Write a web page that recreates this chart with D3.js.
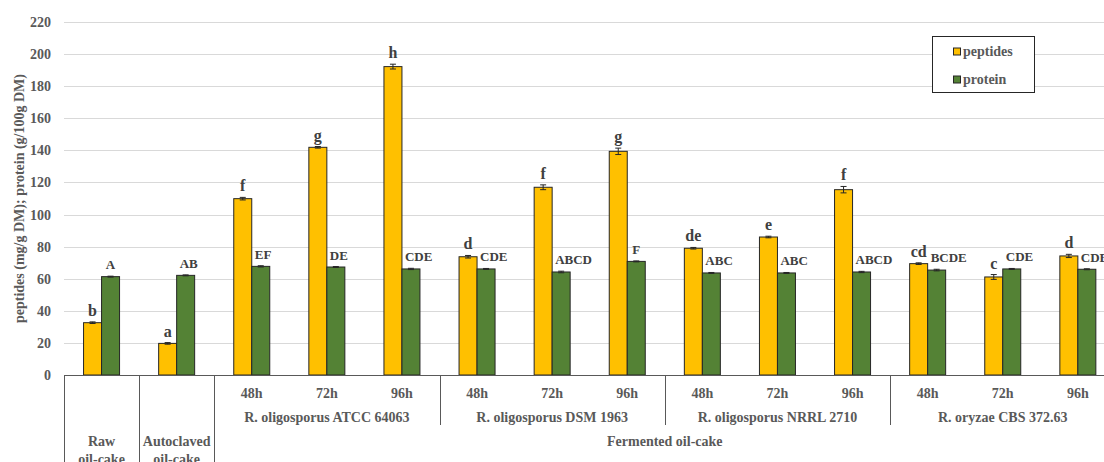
<!DOCTYPE html>
<html><head><meta charset="utf-8">
<script src="https://cdn.jsdelivr.net/npm/d3@7"></script>
<style>
html,body{margin:0;padding:0;background:#fff;}
svg{display:block;font-family:"Liberation Serif","Times New Roman",serif;font-weight:bold;}
</style></head>
<body><svg id="c" width="1104" height="462"></svg>
<script>
const groups = ["Raw","Autoclaved","ATCC 48h","ATCC 72h","ATCC 96h","DSM 48h","DSM 72h","DSM 96h","NRRL 48h","NRRL 72h","NRRL 96h","CBS 48h","CBS 72h","CBS 96h"];
const timeLabels = ["","","48h","72h","96h","48h","72h","96h","48h","72h","96h","48h","72h","96h"];
const peptides = [32.6,19.7,109.9,141.9,192.2,73.7,117.0,139.4,79.0,86.0,115.5,69.4,61.1,74.2];
const peptidesErr = [0.5,0.5,0.8,0.5,1.5,0.8,1.5,2.0,0.5,0.5,2.0,0.5,1.5,1.0];
const protein = [61.3,62.1,67.7,67.3,66.1,66.1,64.2,70.8,63.6,63.6,64.2,65.4,66.1,65.9];
const proteinErr = [0.3,0.3,0.4,0.3,0.4,0.3,0.5,0.3,0.3,0.3,0.4,0.5,0.3,0.3];
const peptideLetters = ["b","a","f","g","h","d","f","g","de","e","f","cd","c","d"];
const proteinLetters = ["A","AB","EF","DE","CDE","CDE","ABCD","F","ABC","ABC","ABCD","BCDE","CDE","CDE"];
const strains = [
  {name:"R. oligosporus ATCC 64063", from:2, to:4},
  {name:"R. oligosporus DSM 1963", from:5, to:7},
  {name:"R. oligosporus NRRL 2710", from:8, to:10},
  {name:"R. oryzae CBS 372.63", from:11, to:13}
];
const topCategories = [
  {lines:["Raw","oil-cake"], from:0, to:0},
  {lines:["Autoclaved","oil-cake"], from:1, to:1},
  {lines:["Fermented oil-cake"], from:2, to:13}
];
const yTicks = [0,20,40,60,80,100,120,140,160,180,200,220];
const seriesNames = ["peptides","protein"];
const colors = ["#FFC000","#548235"];

(function(){
const svg = d3.select("#c");
const mLeft = 64, mTop = 22, mBottom = 375, groupW = 75.1;
const mRight = mLeft + groups.length*groupW;
const x = d3.scaleBand().domain(groups).range([mLeft,mRight]).paddingInner(0).paddingOuter(0);
const y = d3.scaleLinear().domain([0,220]).range([mBottom,mTop]);
const bw = 18;
const axisCol = "#595959", textCol = "#595959", labCol = "#404040";

svg.append("g").selectAll("line").data(yTicks.filter(d=>d>0)).join("line")
  .attr("x1",mLeft).attr("x2",mRight).attr("y1",d=>Math.round(y(d))+0.5).attr("y2",d=>Math.round(y(d))+0.5)
  .attr("stroke","#d9d9d9").attr("stroke-width",1);

const yAxis = d3.axisLeft(y).tickValues(yTicks).tickSize(0).tickPadding(13);
const ga = svg.append("g").attr("transform",`translate(${mLeft},0)`).call(yAxis);
ga.select(".domain").remove();
ga.selectAll("text").attr("font-size",14).attr("font-family","Liberation Serif").attr("font-weight","bold").attr("fill",textCol);

svg.append("text").attr("transform",`translate(24,${(mTop+mBottom)/2}) rotate(-90)`)
  .attr("text-anchor","middle").attr("font-size",14).attr("fill",textCol)
  .text("peptides (mg/g DM); protein (g/100g DM)");

const gb = svg.append("g");
groups.forEach((g,i)=>{
  const c = x(g) + x.bandwidth()/2;
  [[peptides,peptidesErr,0],[protein,proteinErr,1]].forEach(([vals,errs,s])=>{
    const x0 = s===0 ? c-bw : c;
    gb.append("rect").attr("x",x0).attr("y",y(vals[i])).attr("width",bw).attr("height",y(0)-y(vals[i]))
      .attr("fill",colors[s]).attr("stroke","#262626").attr("stroke-width",1);
    const xc = x0+bw/2;
    gb.append("line").attr("x1",xc).attr("x2",xc).attr("y1",y(vals[i]+errs[i])).attr("y2",y(vals[i]-errs[i]))
      .attr("stroke","#262626").attr("stroke-width",1);
    [errs[i],-errs[i]].forEach(e=>{
      gb.append("line").attr("x1",xc-3).attr("x2",xc+3).attr("y1",y(vals[i]+e)).attr("y2",y(vals[i]+e))
        .attr("stroke","#262626").attr("stroke-width",1);
    });
  });
});

groups.forEach((g,i)=>{
  const c = x(g) + x.bandwidth()/2;
  svg.append("text").attr("x",c-bw/2).attr("y",y(peptides[i]+peptidesErr[i])-6)
    .attr("text-anchor","middle").attr("font-size",16).attr("fill",labCol).text(peptideLetters[i]);
  const t = svg.append("text").attr("y",y(protein[i]+proteinErr[i])-7)
    .attr("text-anchor","middle").attr("font-size",13).attr("fill",labCol).text(proteinLetters[i]);
  const w = t.node().getComputedTextLength();
  const off = Math.max(0,(w-bw)/2+3);
  t.attr("x",c+bw/2+off);
});

svg.append("line").attr("x1",mLeft).attr("x2",mRight).attr("y1",mBottom+0.5).attr("y2",mBottom+0.5)
  .attr("stroke",axisCol).attr("stroke-width",1);

[0,1,2].forEach(k=>{
  const xx = Math.round(x(groups[k]))+0.5;
  svg.append("line").attr("x1",xx).attr("x2",xx).attr("y1",mBottom).attr("y2",462).attr("stroke",axisCol);
});
strains.slice(1).forEach(s=>{
  const xx = Math.round(x(groups[s.from]))+0.5;
  svg.append("line").attr("x1",xx).attr("x2",xx).attr("y1",mBottom).attr("y2",425).attr("stroke",axisCol);
});

svg.append("g").selectAll("text").data(groups).join("text")
  .attr("x",d=>x(d)+x.bandwidth()/2).attr("y",398).attr("text-anchor","middle")
  .attr("font-size",14).attr("fill",textCol).text((d,i)=>timeLabels[i]);

strains.forEach(s=>{
  const cx = (x(groups[s.from]) + x(groups[s.to]) + x.bandwidth())/2;
  svg.append("text").attr("x",cx).attr("y",422).attr("text-anchor","middle")
    .attr("font-size",14).attr("fill",textCol).text(s.name);
});
topCategories.forEach(tc=>{
  const cx = (x(groups[tc.from]) + x(groups[tc.to]) + x.bandwidth())/2;
  tc.lines.forEach((ln,j)=>{
    svg.append("text").attr("x",cx).attr("y",446+j*18).attr("text-anchor","middle")
      .attr("font-size",14).attr("fill",textCol).text(ln);
  });
});

const lg = svg.append("g");
lg.append("rect").attr("x",932.5).attr("y",36.5).attr("width",102).attr("height",56)
  .attr("fill","#fff").attr("stroke","#262626").attr("stroke-width",1);
seriesNames.forEach((n,i)=>{
  const cy = 51.5 + i*28;
  lg.append("rect").attr("x",953.5).attr("y",cy-3.5).attr("width",7).attr("height",7)
    .attr("fill",colors[i]).attr("stroke","#262626").attr("stroke-width",1);
  lg.append("text").attr("x",963).attr("y",cy+4.5).attr("font-size",14).attr("fill",textCol).text(n);
});
})();
</script></body></html>
